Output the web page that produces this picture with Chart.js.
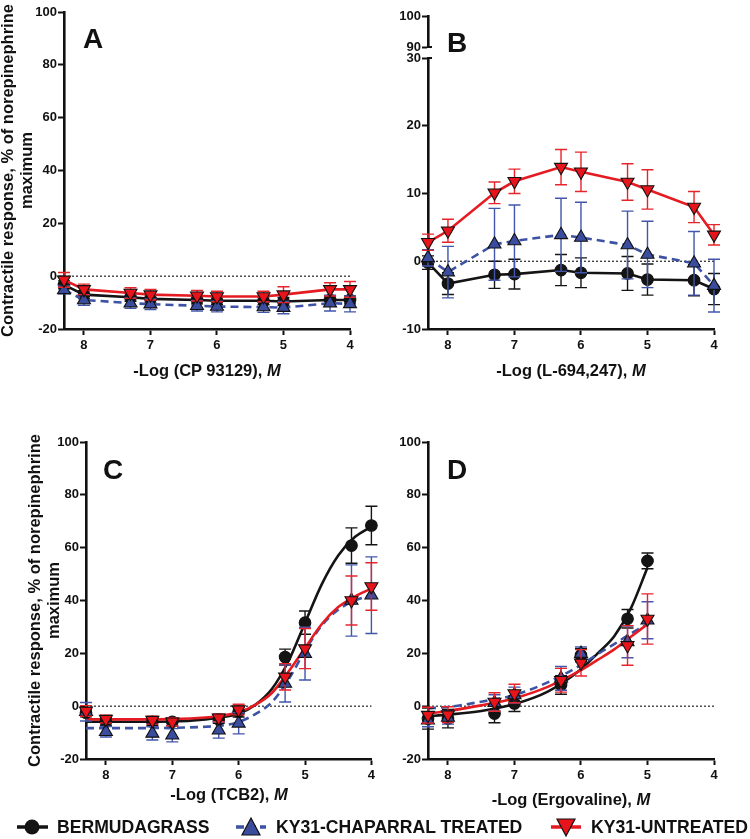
<!DOCTYPE html>
<html><head><meta charset="utf-8">
<script src="https://cdn.jsdelivr.net/npm/chart.js@4.4.1/dist/chart.umd.min.js"></script>
<style>
html,body{margin:0;padding:0;background:#fff;}
body{position:relative;width:750px;height:839px;overflow:hidden;font-family:'Liberation Sans',Arial,sans-serif;color:#111;}
canvas{position:absolute;}
.t{position:absolute;font-weight:bold;white-space:nowrap;line-height:1;color:#111;}
.xt{font-size:16.5px;transform:translateX(-50%);}
.pl{font-size:28px;}
.lg{font-size:17.6px;}
svg{position:absolute;overflow:visible;}
</style></head><body>
<canvas id="cA" width="375" height="420" style="left:0;top:0"></canvas>
<canvas id="cB" width="375" height="420" style="left:375px;top:0"></canvas>
<canvas id="cBtop" width="80" height="60" style="left:375px;top:0"></canvas>
<canvas id="cC" width="380" height="380" style="left:0;top:420px"></canvas>
<canvas id="cD" width="375" height="380" style="left:375px;top:420px"></canvas>

<div class="t pl" style="left:83px;top:24.5px">A</div>
<div class="t pl" style="left:447px;top:29px">B</div>
<div class="t pl" style="left:103px;top:455.5px">C</div>
<div class="t pl" style="left:447px;top:455.5px">D</div>

<div class="t xt" style="left:207px;top:362px">-Log (CP 93129), <i>M</i></div>
<div class="t xt" style="left:571px;top:362px">-Log (L-694,247), <i>M</i></div>
<div class="t xt" style="left:229px;top:786px">-Log (TCB2), <i>M</i></div>
<div class="t xt" style="left:571px;top:791px">-Log (Ergovaline), <i>M</i></div>

<svg width="750" height="839" style="left:0;top:0;pointer-events:none">
  <line x1="17" y1="827" x2="48" y2="827" stroke="#141414" stroke-width="3.5"/>
  <circle cx="32" cy="827" r="7.5" fill="#141414"/>
  <line x1="236" y1="827" x2="266" y2="827" stroke="#3e52a4" stroke-width="3.5" stroke-dasharray="8,4"/>
  <polygon points="251,818 242,835 260,835" fill="#3a4c9e" stroke="#111" stroke-width="1.2"/>
  <line x1="551" y1="827" x2="581" y2="827" stroke="#e51b22" stroke-width="3.5"/>
  <polygon points="557,819 575,819 566,836" fill="#e8141c" stroke="#111" stroke-width="1.2"/>
</svg>
<div class="t lg" style="left:57px;top:818.5px">BERMUDAGRASS</div>
<div class="t lg" style="left:276px;top:818.5px">KY31-CHAPARRAL TREATED</div>
<div class="t lg" style="left:591px;top:818.5px">KY31-UNTREATED</div>

<script>
// ---------- tick labels ----------
const xTickValues = [8, 7, 6, 5, 4];
const yTicksMain = [-20, 0, 20, 40, 60, 80, 100];
const yTicksB = [-10, 0, 10, 20, 30];
const yTicksBTop = [90, 100];

// ---------- concentrations (-log M) ----------
const concFull = [8.3, 8, 7.3, 7, 6.3, 6, 5.3, 5, 4.3, 4];
const concErgo = [8.3, 8, 7.3, 7, 6.3, 6, 5.3, 5];
const zeroLineX = [8.3, 4];
const zeroLineY = [0, 0];

// ---------- Panel A: CP 93129 ----------
const aBermuda = [-3.3, -7.0, -8.0, -8.6, -9.0, -9.3, -9.3, -9.6, -9.0, -9.0];
const aBermudaErr = [1.5, 1.5, 1.5, 1.5, 1.5, 1.5, 1.5, 1.5, 1.5, 1.5];
const aChaparral = [-5.2, -9.0, -10.2, -10.6, -11.2, -11.5, -11.7, -11.9, -10.2, -10.5];
const aChaparralErr = [1.5, 2.0, 2.0, 2.0, 2.0, 2.0, 2.0, 2.3, 3.0, 3.0];
const aUntreated = [-1.4, -5.0, -6.4, -7.0, -7.4, -7.7, -7.7, -7.0, -5.0, -5.0];
const aUntreatedErr = [2.8, 2.0, 2.0, 2.0, 2.0, 2.0, 2.0, 3.0, 2.5, 3.0];

// ---------- Panel B: L-694,247 ----------
const bBermuda = [-0.2, -3.3, -2.0, -1.9, -1.3, -1.7, -1.8, -2.7, -2.8, -4.1];
const bBermudaErr = [1.0, 1.6, 2.0, 2.2, 2.3, 2.2, 2.5, 2.3, 2.3, 2.3];
const bChaparral = [0.5, -1.6, 2.5, 3.0, 3.9, 3.5, 2.4, 1.0, -0.3, -3.6];
const bChaparralErr = [1.2, 3.8, 5.3, 5.3, 5.4, 5.2, 5.0, 4.9, 4.7, 3.9];
const bUntreated = [2.8, 4.5, 10.1, 11.8, 13.9, 13.2, 11.7, 10.6, 8.0, 3.9];
const bUntreatedErr = [1.2, 1.7, 1.6, 1.8, 2.6, 2.9, 2.7, 2.9, 2.3, 1.5];

// ---------- Panel C: TCB2 ----------
const cBermuda = [-2.5, -5.9, -5.9, -5.9, -5.0, -2.1, 18.6, 31.6, 60.8, 68.4];
const cBermudaErr = [1.5, 1.5, 1.5, 1.5, 1.5, 2.0, 3.0, 4.4, 6.7, 7.3];
const cChaparral = [-2.1, -9.7, -10.3, -11.0, -9.1, -6.5, 8.6, 19.9, 40.0, 42.0];
const cChaparralErr = [3.5, 2.0, 2.5, 2.5, 3.0, 4.0, 7.0, 10.0, 13.5, 14.5];
const cUntreated = [-1.8, -4.9, -5.3, -5.9, -4.4, -1.3, 11.1, 21.8, 40.0, 45.3];
const cUntreatedErr = [2.0, 1.5, 1.5, 1.5, 1.5, 2.0, 5.0, 7.6, 9.3, 9.0];
// fitted curves
const cCurveX = [8.3, 7.5, 7, 6.5, 6.25, 6, 5.75, 5.5, 5.25, 5, 4.75, 4.5, 4.25, 4];
const cCurveBermuda = [-5.9, -5.9, -5.8, -5.0, -4.2, -2.8, 0.5, 6.5, 17, 31.5, 46, 57, 64, 68];
const cCurveChaparral = [-8.3, -8.3, -8.2, -7.8, -7.3, -6.0, -3.0, 1.5, 10, 21, 30.5, 36.5, 40, 42];
const cCurveUntreated = [-5.0, -5.0, -4.9, -4.3, -3.6, -2.3, 0.5, 5, 13, 22, 31, 37.5, 41.5, 44.5];

// ---------- Panel D: Ergovaline ----------
const dBermuda = [-4.7, -4.7, -2.8, 1.0, 8.0, 19.3, 33.1, 55.0];
const dBermudaErr = [4.0, 3.5, 3.5, 3.0, 3.5, 2.5, 3.5, 3.0];
const dChaparral = [-5.3, -4.3, 1.3, 4.2, 10.5, 19.9, 24.3, 32.5];
const dChaparralErr = [2.5, 2.5, 3.0, 3.0, 4.5, 2.5, 6.0, 7.0];
const dUntreated = [-3.4, -3.2, 1.6, 4.8, 9.8, 16.4, 23.0, 33.0];
const dUntreatedErr = [3.0, 3.0, 3.5, 3.5, 4.5, 5.0, 7.5, 9.5];
const dCurveX = [8.3, 8, 7.5, 7, 6.5, 6, 5.75, 5.5, 5.25, 5];
const dCurveBermuda = [-3.8, -3.2, -1.8, 0.8, 5.5, 14, 20, 26.5, 37, 52.5];
const dCurveChaparral = [-0.8, -0.3, 1.7, 4.2, 9, 15.6, 19.7, 23.5, 27.5, 31];
const dCurveUntreated = [-2.8, -1.8, 0.3, 3.0, 7.3, 13.6, 17.5, 21.5, 26.3, 31];

// ---------- helpers ----------
const FONT = "'Liberation Sans', Arial, sans-serif";
const pts = (xs, ys) => xs.map((x, i) => ({x, y: ys[i]}));
const STY = {
  berm: {line:'#141414', fill:'#141414', err:'#141414', style:'circle', r:5.8, rot:0, dash:[]},
  chap: {line:'#3e52a4', fill:'#3a4c9e', err:'#4256aa', style:'triangle', r:7.5, rot:0, dash:[8,5]},
  untr: {line:'#e51b22', fill:'#e8141c', err:'#e8242b', style:'triangle', r:7.5, rot:180, dash:[]}
};
function markDs(key, xs, ys, errs, order, showLine) {
  const s = STY[key];
  return {data: pts(xs, ys), errors: errs, errorColor: s.err, order, showLine,
    borderColor: s.line, borderWidth: 2.6, borderDash: s.dash, tension: 0,
    pointStyle: s.style, pointRadius: s.r, pointRotation: s.rot,
    pointBackgroundColor: s.fill, pointBorderColor: '#111', pointBorderWidth: 1.1, clip: false};
}
function curveDs(key, xs, ys, order) {
  const s = STY[key];
  return {data: pts(xs, ys), order, showLine: true, borderColor: s.line, borderWidth: 2.6,
    borderDash: s.dash, cubicInterpolationMode: 'monotone', pointRadius: 0, clip: false};
}
function zeroDs() {
  return {data: pts(zeroLineX, zeroLineY), order: 20, showLine: true, borderColor: '#111',
    borderWidth: 1.1, borderDash: [2, 2], pointRadius: 0, clip: false};
}
const errorBars = {
  id: 'errorBars',
  beforeDatasetDraw(chart, args) {
    const ds = chart.data.datasets[args.index];
    if (!ds.errors) return;
    const {ctx} = chart, xs = chart.scales.x, ys = chart.scales.y;
    ctx.save();
    ctx.strokeStyle = ds.errorColor; ctx.lineWidth = 1.4;
    ds.data.forEach((p, j) => {
      const e = ds.errors[j];
      const px = xs.getPixelForValue(p.x);
      const y1 = ys.getPixelForValue(p.y + e), y2 = ys.getPixelForValue(p.y - e);
      ctx.beginPath();
      ctx.moveTo(px, y1); ctx.lineTo(px, y2);
      ctx.moveTo(px - 6, y1); ctx.lineTo(px + 6, y1);
      ctx.moveTo(px - 6, y2); ctx.lineTo(px + 6, y2);
      ctx.stroke();
    });
    ctx.restore();
  }
};
// short stub to the right of the y axis at the ends of the axis break
function breakStub(value) {
  return {
    id: 'breakStub',
    afterDraw(chart) {
      const {ctx} = chart, ys = chart.scales.y;
      const py = ys.getPixelForValue(value), px = ys.right;
      ctx.save(); ctx.strokeStyle = '#111'; ctx.lineWidth = 2;
      ctx.beginPath(); ctx.moveTo(px - 1, py); ctx.lineTo(px + 4, py); ctx.stroke();
      ctx.restore();
    }
  };
}
function opts(cfg) {
  const yTitle = cfg.yTitle ? {display: true, text: ['Contractile response, % of norepinephrine', 'maximum'],
      color: '#111', font: {family: FONT, size: 16.5, weight: 'bold', lineHeight: 1.21},
      padding: {top: cfg.titlePad, bottom: 0}} : {display: false};
  const xShow = cfg.xDisplay !== false;
  return {
    responsive: false, animation: false, events: [],
    layout: {padding: cfg.padding},
    plugins: {legend: {display: false}, tooltip: {enabled: false}},
    scales: {
      x: {type: 'linear', reverse: true, min: 4, max: 8.3, display: xShow,
        afterBuildTicks: s => { s.ticks = xTickValues.map(v => ({value: v})); },
        afterFit: s => { s.height = xShow ? 30 : 0; },
        grid: {drawOnChartArea: false, drawTicks: true, tickLength: 6, tickColor: '#111', tickWidth: 2},
        border: {color: '#111', width: 2.6},
        ticks: {color: '#111', font: {family: FONT, size: 13, weight: 'bold'}, padding: 3, maxRotation: 0, autoSkip: false}
      },
      y: {type: 'linear', min: cfg.yMin, max: cfg.yMax,
        afterBuildTicks: s => { s.ticks = cfg.yTicks.map(v => ({value: v})); },
        afterFit: s => { s.width = cfg.yWidth; },
        grid: {drawOnChartArea: false, drawTicks: true, tickLength: 6, tickColor: '#111', tickWidth: 2},
        border: {color: '#111', width: 2.6},
        ticks: {color: '#111', font: {family: FONT, size: 13, weight: 'bold'}, padding: 1, autoSkip: false},
        title: yTitle
      }
    }
  };
}

// ---------- Panel A ----------
new Chart(document.getElementById('cA'), {
  type: 'scatter',
  data: {datasets: [
    markDs('untr', concFull, aUntreated, aUntreatedErr, 0, true),
    markDs('chap', concFull, aChaparral, aChaparralErr, 1, true),
    markDs('berm', concFull, aBermuda, aBermudaErr, 2, true),
    zeroDs()
  ]},
  options: opts({padding: {left: 0, right: 25, top: 12, bottom: 61}, yMin: -20, yMax: 100, yTicks: yTicksMain, yWidth: 64, yTitle: true, titlePad: -2}),
  plugins: [errorBars]
});

// ---------- Panel B ----------
new Chart(document.getElementById('cB'), {
  type: 'scatter',
  data: {datasets: [
    markDs('untr', concFull, bUntreated, bUntreatedErr, 0, true),
    markDs('chap', concFull, bChaparral, bChaparralErr, 1, true),
    markDs('berm', concFull, bBermuda, bBermudaErr, 2, true),
    zeroDs()
  ]},
  options: opts({padding: {left: 0, right: 36, top: 58, bottom: 61}, yMin: -10, yMax: 30, yTicks: yTicksB, yWidth: 53}),
  plugins: [errorBars, breakStub(30)]
});
new Chart(document.getElementById('cBtop'), {
  type: 'scatter',
  data: {datasets: []},
  options: opts({padding: {left: 0, right: 10, top: 16, bottom: 13}, yMin: 90, yMax: 100, yTicks: yTicksBTop, yWidth: 53, xDisplay: false}),
  plugins: [breakStub(90)]
});

// ---------- Panel C ----------
new Chart(document.getElementById('cC'), {
  type: 'scatter',
  data: {datasets: [
    markDs('untr', concFull, cUntreated, cUntreatedErr, 0, false),
    markDs('chap', concFull, cChaparral, cChaparralErr, 1, false),
    markDs('berm', concFull, cBermuda, cBermudaErr, 2, false),
    curveDs('untr', cCurveX, cCurveUntreated, 3),
    curveDs('chap', cCurveX, cCurveChaparral, 4),
    curveDs('berm', cCurveX, cCurveBermuda, 5),
    zeroDs()
  ]},
  options: opts({padding: {left: 0, right: 8, top: 22, bottom: 11}, yMin: -20, yMax: 100, yTicks: yTicksMain, yWidth: 86, yTitle: true, titlePad: 25}),
  plugins: [errorBars]
});

// ---------- Panel D ----------
new Chart(document.getElementById('cD'), {
  type: 'scatter',
  data: {datasets: [
    markDs('untr', concErgo, dUntreated, dUntreatedErr, 0, false),
    markDs('chap', concErgo, dChaparral, dChaparralErr, 1, false),
    markDs('berm', concErgo, dBermuda, dBermudaErr, 2, false),
    curveDs('untr', dCurveX, dCurveUntreated, 3),
    curveDs('chap', dCurveX, dCurveChaparral, 4),
    curveDs('berm', dCurveX, dCurveBermuda, 5),
    zeroDs()
  ]},
  options: opts({padding: {left: 0, right: 36, top: 22, bottom: 11}, yMin: -20, yMax: 100, yTicks: yTicksMain, yWidth: 53}),
  plugins: [errorBars]
});
</script>
</body></html>
